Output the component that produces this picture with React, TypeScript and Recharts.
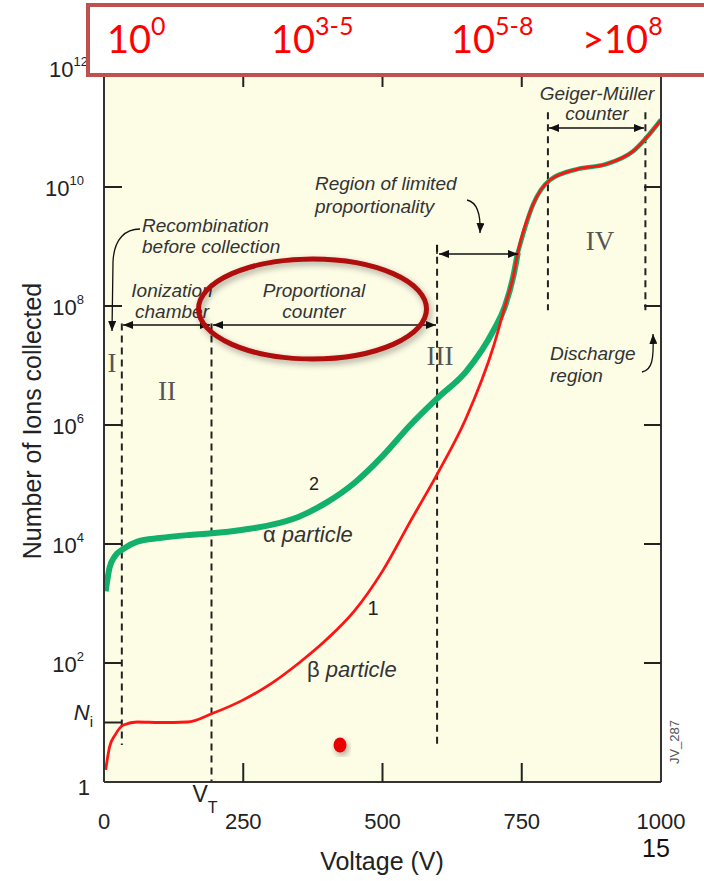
import React from 'react';
import { ComposedChart, Line, XAxis, YAxis, ReferenceLine, CartesianGrid } from 'recharts';

// Voltage (V) sample points
const voltage = [3, 10, 20, 35, 60, 100, 150, 193, 250, 300, 350, 400, 450, 500, 550, 600, 650, 700, 720, 735, 743, 770, 800, 850, 900, 950, 1000];
// Curve 1: beta particle (number of ions collected)
const betaIons = [1.6, 3.9, 6.2, 9.1, 10.2, 10, 10.2, 14, 24, 45, 100, 250, 760, 3500, 2.4e4, 1.6e5, 1.3e6, 2.2e7, 1.0e8, 3.2e8, 7.9e8, 5.0e9, 1.3e10, 2.0e10, 2.4e10, 4.0e10, 1.35e11];
// Curve 2: alpha particle (below the merge point)
const alphaIons = [1600, 4000, 6300, 8300, 11000, 12600, 14100, 15100, 17400, 20900, 28800, 50000, 1.07e5, 3.0e5, 1.0e6, 2.9e6, 7.9e6, 4.0e7, 1.0e8, 3.2e8, 7.9e8, null, null, null, null, null, null];
// Curve 2 above the merge point (hidden under curve 1)
const alphaIonsMerged = [null, null, null, null, null, null, null, null, null, null, null, null, null, null, null, null, null, null, null, null, 7.9e8, 5.0e9, 1.3e10, 2.0e10, 2.4e10, 4.0e10, 1.35e11];

const xTicks = [0, 193, 250, 500, 750, 1000];
const xTopTicks = [250, 500, 750];
const yTicksLeft = [1, 10, 100, 1e4, 1e6, 1e8, 1e10, 1e12];
const yTicksRight = [100, 1e4, 1e6, 1e8, 1e10];

// Region boundaries (dashed vertical lines)
const boundaryVoltages = [32, 193, 598, 797, 972];
const boundaryTops = [5.1e7, 5.1e7, 1.07e9, 1.8e11, 1.8e11];
const boundaryBottoms = [4.2, 1, 3.7, 8.5e7, 8.5e7];

const data = voltage.map((v, i) => ({ v, alpha: alphaIons[i], alphaM: alphaIonsMerged[i], beta: betaIons[i] }));

const SANS = '"Liberation Sans", Arial, Helvetica, sans-serif';
const SERIF = '"Liberation Serif", "Times New Roman", serif';

const LeftTick = (props: any) => {
  const { x, y, payload } = props;
  const v = payload.value;
  const exp = Math.round(Math.log10(v));
  let label: any;
  if (v === 1) {
    label = <text x={x - 14} y={y + 13} textAnchor="end" fontSize={22} fill="#222" fontFamily={SANS}>1</text>;
  } else if (v === 10) {
    label = (
      <text x={x - 11} y={y - 3} textAnchor="end" fontSize={22} fill="#222" fontFamily={SANS}>
        <tspan fontStyle="italic">N</tspan>
        <tspan fontSize={15} dy={7}>i</tspan>
      </text>
    );
  } else {
    label = (
      <text x={x - (exp === 12 ? 16 : 20)} y={y + 9} textAnchor="end" fontSize={22} fill="#222" fontFamily={SANS}>
        10<tspan fontSize={13} dy={-11}>{exp}</tspan>
      </text>
    );
  }
  return (
    <g>
      {v !== 1 && <line x1={x} x2={x + 18} y1={y} y2={y} stroke="#222" strokeWidth={2} />}
      {label}
    </g>
  );
};

const RightTick = (props: any) => {
  const { x, y } = props;
  return <line x1={x} x2={x - 17} y1={y} y2={y} stroke="#222" strokeWidth={2} />;
};

const BottomTick = (props: any) => {
  const { x, y, payload } = props;
  const v = payload.value;
  if (v === 193) {
    return (
      <text x={x - 19} y={y + 20} fontSize={23} fill="#222" fontFamily={SANS}>
        V<tspan fontSize={16} dy={11}>T</tspan>
      </text>
    );
  }
  return (
    <g>
      {v !== 0 && v !== 1000 && <line x1={x} x2={x} y1={y} y2={y - 19} stroke="#222" strokeWidth={2} />}
      <text x={x} y={y + 47} textAnchor="middle" fontSize={22} fill="#222" fontFamily={SANS}>{v}</text>
    </g>
  );
};

const TopTick = (props: any) => {
  const { x, y } = props;
  return <line x1={x} x2={x} y1={y} y2={y + 19} stroke="#222" strokeWidth={2} />;
};

const it = { fontFamily: SANS, fontStyle: 'italic' as const, fontSize: 19, fill: '#333' };
const roman = { fontFamily: SERIF, fontSize: 27, fill: '#555', textAnchor: 'middle' as const };
const axisLine = { stroke: '#333', strokeWidth: 2 };

export default function App() {
  return (
    <div style={{ position: 'absolute', left: 0, top: 0, width: 704, height: 881, background: '#fff' }}>
      <ComposedChart width={704} height={881} data={data} margin={{ top: 58, right: 33, bottom: 49, left: 44 }}>
        <CartesianGrid horizontal={false} vertical={false} fill="#FDFDE6" />
        <XAxis
          dataKey="v"
          type="number"
          domain={[0, 1000]}
          ticks={xTicks}
          interval={0}
          height={50}
          tickSize={0}
          tickMargin={0}
          tickLine={false}
          axisLine={axisLine}
          tick={<BottomTick />}
          allowDataOverflow
        />
        <XAxis
          xAxisId="top"
          orientation="top"
          dataKey="v"
          type="number"
          domain={[0, 1000]}
          ticks={xTopTicks}
          interval={0}
          height={10}
          tickSize={0}
          tickMargin={0}
          tickLine={false}
          axisLine={axisLine}
          tick={<TopTick />}
        />
        <YAxis
          type="number"
          scale="log"
          domain={[1, 1e12]}
          ticks={yTicksLeft}
          interval={0}
          width={60}
          tickSize={0}
          tickMargin={0}
          tickLine={false}
          axisLine={axisLine}
          tick={<LeftTick />}
          allowDataOverflow
        />
        <YAxis
          yAxisId="right"
          orientation="right"
          type="number"
          scale="log"
          domain={[1, 1e12]}
          ticks={yTicksRight}
          interval={0}
          width={10}
          tickSize={0}
          tickMargin={0}
          tickLine={false}
          axisLine={axisLine}
          tick={<RightTick />}
          allowDataOverflow
        />
        {boundaryVoltages.map((bv, i) => (
          <ReferenceLine
            key={'b' + i}
            segment={[{ x: bv, y: boundaryTops[i] }, { x: bv, y: boundaryBottoms[i] }]}
            stroke="#222"
            strokeWidth={2}
            strokeDasharray="7 5"
          />
        ))}
        <Line dataKey="alpha" type="monotone" stroke="#12B06A" strokeWidth={6} dot={false} isAnimationActive={false} connectNulls={false} />
        <Line dataKey="alphaM" type="monotone" stroke="#12B06A" strokeWidth={4.5} dot={false} isAnimationActive={false} connectNulls={false} />
        <Line dataKey="beta" type="monotone" stroke="#FF1414" strokeWidth={2.8} dot={false} isAnimationActive={false} />
      </ComposedChart>

      <svg width={704} height={881} style={{ position: 'absolute', left: 0, top: 0, pointerEvents: 'none' }}>
        <defs>
          <marker id="ah" viewBox="0 0 10 8" refX="10" refY="4" markerWidth="10" markerHeight="8" markerUnits="userSpaceOnUse" orient="auto-start-reverse">
            <path d="M0,0 L10,4 L0,8 z" fill="#111" />
          </marker>
          <filter id="sh" x="-30%" y="-30%" width="160%" height="160%">
            <feDropShadow dx="2" dy="3" stdDeviation="3" floodColor="#000" floodOpacity="0.35" />
          </filter>
        </defs>

        {/* region arrows */}
        <line x1={123} y1={325} x2={210} y2={325} stroke="#111" strokeWidth={1.5} markerStart="url(#ah)" markerEnd="url(#ah)" />
        <line x1={213} y1={325} x2={436} y2={325} stroke="#111" strokeWidth={1.5} markerStart="url(#ah)" markerEnd="url(#ah)" />
        <line x1={439} y1={254} x2={518} y2={254} stroke="#111" strokeWidth={1.5} markerStart="url(#ah)" markerEnd="url(#ah)" />
        <line x1={437} y1={245} x2={437} y2={254} stroke="#111" strokeWidth={1.5} />
        <line x1={549} y1={128} x2={644} y2={128} stroke="#111" strokeWidth={1.5} markerStart="url(#ah)" markerEnd="url(#ah)" />
        <path d="M140,229 C126,229 114,238 113,262 L112,331" fill="none" stroke="#111" strokeWidth={1.3} markerEnd="url(#ah)" />
        <path d="M467,200 C476,202 481,212 480,233" fill="none" stroke="#111" strokeWidth={1.3} markerEnd="url(#ah)" />
        <path d="M642,372 C652,370 654,360 653,334" fill="none" stroke="#111" strokeWidth={1.3} markerEnd="url(#ah)" />

        {/* annotations */}
        <text x={142} y={232} {...it}>Recombination</text>
        <text x={142} y={253} {...it}>before collection</text>
        <text x={172} y={297} textAnchor="middle" {...it}>Ionization</text>
        <text x={172} y={318} textAnchor="middle" {...it}>chamber</text>
        <text x={314} y={297} textAnchor="middle" {...it}>Proportional</text>
        <text x={314} y={318} textAnchor="middle" {...it}>counter</text>
        <text x={315} y={190} {...it}>Region of limited</text>
        <text x={315} y={213} {...it}>proportionality</text>
        <text x={597} y={100} textAnchor="middle" {...it}>Geiger-Müller</text>
        <text x={597} y={120} textAnchor="middle" {...it}>counter</text>
        <text x={550} y={360} {...it}>Discharge</text>
        <text x={550} y={382} {...it}>region</text>

        <text x={112} y={372} {...roman}>I</text>
        <text x={167} y={400} {...roman}>II</text>
        <text x={440} y={365} {...roman}>III</text>
        <text x={600} y={250} {...roman}>IV</text>

        <text x={314} y={490} textAnchor="middle" fontSize={18} fill="#222" fontFamily={SANS}>2</text>
        <text x={373} y={615} textAnchor="middle" fontSize={20} fill="#222" fontFamily={SANS}>1</text>
        <text x={263} y={542} fontSize={22} fill="#333" fontFamily={SANS}>
          α<tspan fontStyle="italic"> particle</tspan>
        </text>
        <text x={307} y={677} fontSize={22} fill="#333" fontFamily={SANS}>
          β<tspan fontStyle="italic"> particle</tspan>
        </text>

        <text x={674} y={742} transform="rotate(-90 674 742)" textAnchor="middle" dominantBaseline="central" fontSize={13} fill="#555" fontFamily={SANS}>JV_287</text>

        {/* axis titles */}
        <text x={32} y={421} transform="rotate(-90 32 421)" textAnchor="middle" dominantBaseline="central" fontSize={25} fill="#222" fontFamily={SANS}>Number of Ions collected</text>
        <text x={382} y={870} textAnchor="middle" fontSize={25} fill="#222" fontFamily={SANS}>Voltage (V)</text>

        {/* highlight ellipse and dot */}
        <ellipse cx={312.5} cy={309} rx={114} ry={50} fill="none" stroke="#B00A0A" strokeWidth={5} filter="url(#sh)" />
        <ellipse cx={340} cy={745} rx={6.5} ry={7.5} fill="#E80000" filter="url(#sh)" />

        {/* slide number */}
        <text x={656} y={857} textAnchor="middle" fontSize={25} fill="#111" fontFamily={SANS}>15</text>

        {/* top box */}
        <rect x={88} y={5} width={640} height={70} fill="#fff" stroke="#C0504D" strokeWidth={4} />
        <g fill="#FF0000" fontFamily='Lato, "Open Sans", sans-serif' fontSize={38}>
          <text x={107} y={53}>10<tspan fontSize={25} dy={-18}>0</tspan></text>
          <text x={271} y={53}>10<tspan fontSize={25} dy={-18}>3-5</tspan></text>
          <text x={451} y={53}>10<tspan fontSize={25} dy={-18}>5-8</tspan></text>
          <text x={582} y={53}>{'>'}10<tspan fontSize={25} dy={-18}>8</tspan></text>
        </g>
      </svg>
    </div>
  );
}
